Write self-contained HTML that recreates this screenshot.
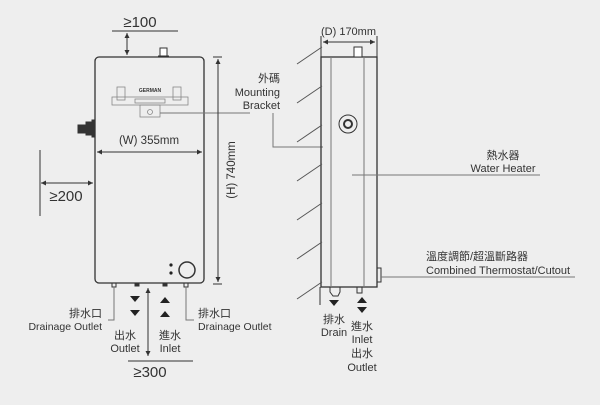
<!DOCTYPE html>
<html><head><meta charset="utf-8"><style>
html,body{margin:0;padding:0;background:#eeeeee;}
svg{display:block;}
text{font-family:"Liberation Sans","Noto Sans CJK TC",sans-serif;fill:#333;}
</style></head><body>
<svg width="600" height="405" viewBox="0 0 600 405" xmlns="http://www.w3.org/2000/svg">
<defs>
<marker id="a" markerWidth="6" markerHeight="6" refX="5" refY="3" orient="auto-start-reverse"><path d="M0,0.5 L5,3 L0,5.5Z" fill="#333"/></marker>
</defs>
<g stroke="#333" fill="none" stroke-width="1">
<rect x="95" y="57" width="109" height="226" rx="4" stroke-width="1.3"/>
<line x1="112" y1="31" x2="178" y2="31"/>
<line x1="127" y1="33" x2="127" y2="55" marker-start="url(#a)" marker-end="url(#a)"/>
<rect x="160" y="48" width="7" height="9" fill="#fff"/>
<line x1="158" y1="56" x2="169" y2="56"/>
<g stroke="#888" stroke-width="0.8">
<rect x="117" y="87" width="8" height="13"/><rect x="173" y="87" width="8" height="13"/>
<rect x="112" y="97" width="76" height="8"/>
<rect x="135" y="99" width="30" height="4"/>
<rect x="140" y="105" width="20" height="12"/>
<circle cx="150" cy="112" r="2.5"/>
</g>
<line x1="160" y1="113" x2="250" y2="113" stroke="#777"/>
<polyline points="273,113 273,147 323,147" stroke="#777"/>
<rect x="78" y="125" width="8" height="8" fill="#333"/>
<rect x="86" y="122" width="6" height="13" fill="#333"/>
<rect x="92" y="120" width="3" height="17" fill="#333"/>
<line x1="97" y1="152" x2="202" y2="152" marker-start="url(#a)" marker-end="url(#a)"/>
<line x1="40" y1="150" x2="40" y2="216"/>
<line x1="41" y1="183" x2="93" y2="183" marker-start="url(#a)" marker-end="url(#a)"/>
<line x1="218" y1="59" x2="218" y2="282" marker-start="url(#a)" marker-end="url(#a)"/>
<line x1="213" y1="57" x2="222" y2="57"/><line x1="213" y1="284" x2="222" y2="284"/>
<circle cx="187" cy="270" r="8" stroke-width="1.5"/>
<rect x="112" y="283" width="4" height="4"/><rect x="184" y="283" width="4" height="4"/>
<rect x="135" y="283" width="4" height="3" fill="#333"/><rect x="163" y="283" width="4" height="3" fill="#333"/>
<polyline points="114,287 114,320 108,320" stroke="#777"/>
<polyline points="186,287 186,320 194,320" stroke="#777"/>
<line x1="148" y1="288" x2="148" y2="356" marker-start="url(#a)" marker-end="url(#a)"/>
<line x1="128" y1="361" x2="193" y2="361"/>
<rect x="321" y="57" width="56" height="230" stroke-width="1.3"/>
<line x1="331" y1="57" x2="331" y2="287" stroke="#777"/>
<line x1="364" y1="57" x2="364" y2="287" stroke="#777"/>
<line x1="323" y1="42" x2="375" y2="42" marker-start="url(#a)" marker-end="url(#a)"/>
<line x1="321" y1="36" x2="321" y2="57"/><line x1="377" y1="36" x2="377" y2="57"/>
<rect x="354" y="47" width="8" height="10" fill="#fff"/>
<circle cx="348" cy="124" r="9"/><circle cx="348" cy="124" r="4" stroke-width="2"/>
<g stroke="#555">
<line x1="297" y1="64" x2="322" y2="47"/><line x1="297" y1="103" x2="322" y2="86"/>
<line x1="297" y1="142" x2="322" y2="125"/><line x1="297" y1="181" x2="322" y2="164"/>
<line x1="297" y1="220" x2="322" y2="203"/><line x1="297" y1="259" x2="322" y2="242"/>
<line x1="297" y1="299" x2="322" y2="282"/>
</g>
<line x1="320" y1="287" x2="320" y2="305"/>
<line x1="352" y1="175" x2="540" y2="175" stroke="#777"/>
<rect x="377" y="268" width="4" height="14"/>
<line x1="381" y1="277" x2="575" y2="277" stroke="#777"/>
<path d="M330,287 L330,292 L333,296 L338,296 L340,292 L340,287" />
<rect x="357" y="287" width="5" height="6"/>
</g>
<g fill="#222">
<circle cx="171" cy="265" r="1.6"/><circle cx="171" cy="273" r="1.6"/>
<path d="M130,296 h10 l-5,6z M130,310 h10 l-5,6z"/>
<path d="M160,303 h10 l-5,-6z M160,317 h10 l-5,-6z"/>
<path d="M329,300 h10 l-5,6z"/>
<path d="M357,303 h10 l-5,-6z M357,307 h10 l-5,6z"/>
</g>
<g font-size="11">
<text x="150" y="92" font-size="5" font-weight="bold" text-anchor="middle">GERMAN</text>
<text x="140" y="27" font-size="15" text-anchor="middle">≥100</text>
<text x="149" y="144" font-size="11.5" text-anchor="middle">(W) 355mm</text>
<text x="66" y="201" font-size="15" text-anchor="middle">≥200</text>
<text transform="translate(235,170) rotate(-90)" font-size="11.5" text-anchor="middle">(H) 740mm</text>
<text x="150" y="377" font-size="15" text-anchor="middle">≥300</text>
<text x="102" y="317" text-anchor="end">排水口</text>
<text x="102" y="330" text-anchor="end" font-size="10.5">Drainage Outlet</text>
<text x="198" y="317">排水口</text>
<text x="198" y="330" font-size="10.5">Drainage Outlet</text>
<text x="125" y="339" text-anchor="middle">出水</text>
<text x="125" y="352" text-anchor="middle">Outlet</text>
<text x="170" y="339" text-anchor="middle">進水</text>
<text x="170" y="352" text-anchor="middle">Inlet</text>
<text x="280" y="82" text-anchor="end">外碼</text>
<text x="280" y="96" text-anchor="end">Mounting</text>
<text x="280" y="109" text-anchor="end">Bracket</text>
<text x="321" y="35">(D) 170mm</text>
<text x="503" y="159" text-anchor="middle">熱水器</text>
<text x="503" y="172" text-anchor="middle">Water Heater</text>
<text x="426" y="260">溫度調節/超溫斷路器</text>
<text x="426" y="274">Combined Thermostat/Cutout</text>
<text x="334" y="323" text-anchor="middle">排水</text>
<text x="334" y="336" text-anchor="middle">Drain</text>
<text x="362" y="330" text-anchor="middle">進水</text>
<text x="362" y="343" text-anchor="middle">Inlet</text>
<text x="362" y="357" text-anchor="middle">出水</text>
<text x="362" y="371" text-anchor="middle">Outlet</text>
</g>
</svg>
</body></html>
